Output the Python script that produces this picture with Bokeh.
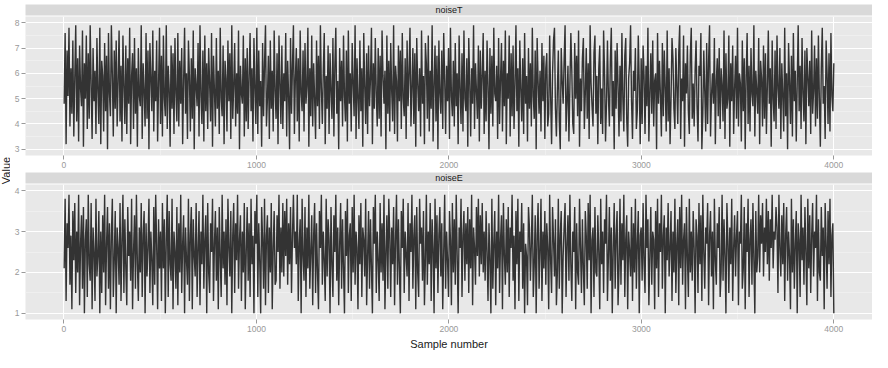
import numpy as np
from math import pi
from bokeh.plotting import figure
from bokeh.models import Label, SingleIntervalTicker, ColumnDataSource
from bokeh.layouts import row, column
from bokeh.embed import file_html
from bokeh.resources import INLINE

# ---- data ----
panel_names = ["noiseT", "noiseE"]
x_ticks = [0, 1000, 2000, 3000, 4000]
y_ticks_t = [3, 4, 5, 6, 7, 8]
y_ticks_e = [1, 2, 3, 4]

noise_t = [
 4.8, 7.6, 3.2, 6.9, 5.1, 7.8, 3.9, 6.2, 4.4, 7.3, 3.5, 5.8, 7.9, 4.1, 6.6, 3.3, 7.1, 5.4, 4.7, 7.7,
 3.1, 6.4, 5.0, 7.5, 3.8, 6.8, 4.2, 7.9, 5.6, 3.4, 7.0, 4.9, 6.1, 3.6, 7.4, 5.3, 4.0, 7.8, 3.2, 6.5,
 5.9, 3.7, 7.2, 4.5, 6.7, 3.0, 7.6, 5.2, 4.3, 7.9, 6.0, 3.5, 6.9, 4.6, 7.3, 3.9, 5.7, 7.7, 4.1, 6.3,
 3.3, 7.5, 5.5, 4.0, 7.1, 3.6, 6.6, 4.8, 7.8, 3.2, 5.9, 6.8, 3.8, 7.4, 4.4, 6.2, 3.1, 7.0, 5.1, 4.7,
 7.9, 3.4, 6.4, 5.3, 3.9, 7.6, 4.2, 6.9, 3.0, 7.2, 5.8, 4.5, 7.7, 3.7, 6.1, 4.9, 7.3, 3.3, 5.6, 7.8,
 4.0, 6.7, 3.5, 7.5, 5.0, 4.3, 7.9, 3.8, 6.3, 5.4, 3.1, 7.1, 4.6, 6.8, 3.6, 7.4, 5.2, 4.1, 7.6, 3.9,
 6.5, 4.8, 7.0, 3.2, 5.7, 7.8, 4.4, 6.0, 3.4, 7.3, 5.9, 3.7, 6.6, 4.2, 7.7, 3.0, 6.2, 5.5, 4.7, 7.2,
 3.5, 7.9, 5.1, 4.0, 6.9, 3.3, 7.5, 4.5, 6.4, 3.8, 7.0, 5.6, 4.1, 7.6, 3.1, 6.7, 5.3, 3.9, 7.4, 4.6,
 6.1, 3.6, 7.8, 5.0, 4.3, 7.1, 3.2, 6.5, 5.8, 3.7, 7.3, 4.9, 6.8, 3.4, 7.9, 4.2, 5.5, 7.2, 3.9, 6.0,
 4.4, 7.7, 3.0, 6.3, 5.2, 4.8, 7.5, 3.5, 6.6, 4.1, 7.0, 3.8, 5.9, 7.6, 4.5, 6.2, 3.3, 7.4, 5.4, 4.0,
 7.8, 3.6, 6.9, 4.7, 5.7, 3.1, 7.2, 4.3, 6.4, 7.9, 3.9, 5.0, 6.7, 3.4, 7.3, 4.6, 6.1, 3.7, 7.7, 5.3,
 4.2, 6.8, 3.2, 7.5, 5.6, 4.0, 7.1, 3.8, 6.0, 4.9, 7.6, 3.5, 6.5, 5.1, 3.0, 7.4, 4.4, 6.3, 7.9, 3.6,
 5.8, 7.0, 4.1, 6.6, 3.3, 7.7, 5.2, 4.5, 6.9, 3.7, 7.2, 4.8, 5.5, 7.8, 3.1, 6.2, 4.3, 7.5, 3.9, 6.4,
 5.0, 3.4, 7.3, 4.7, 6.7, 3.8, 7.9, 5.4, 4.0, 6.1, 7.6, 3.2, 5.9, 4.6, 7.1, 3.6, 6.8, 5.3, 4.2, 7.4,
 3.5, 6.3, 7.8, 4.4, 5.7, 3.0, 7.0, 4.9, 6.5, 3.9, 7.5, 5.1, 4.1, 6.9, 3.3, 7.7, 4.8, 6.0, 3.7, 7.2,
 5.6, 4.3, 7.9, 3.4, 6.6, 5.0, 3.8, 7.3, 4.5, 6.2, 3.1, 7.6, 5.5, 4.0, 6.8, 3.6, 7.1, 4.7, 5.8, 7.8,
 3.2, 6.4, 4.6, 7.4, 5.2, 3.9, 7.0, 4.2, 6.7, 3.5, 7.7, 5.9, 4.8, 6.1, 3.0, 7.5, 4.4, 6.5, 3.7, 7.2,
 5.3, 4.1, 7.9, 3.6, 6.3, 5.7, 3.3, 7.1, 4.9, 6.9, 3.8, 7.6, 5.0, 4.3, 6.6, 3.4, 7.3, 4.7, 6.0, 7.8,
 3.9, 5.4, 7.0, 4.0, 6.8, 3.1, 7.4, 5.6, 4.5, 6.2, 3.5, 7.7, 4.8, 5.9, 3.2, 7.2, 6.4, 4.2, 7.5, 3.7,
 6.1, 4.6, 7.9, 3.3, 5.5, 7.1, 4.1, 6.7, 3.0, 7.3, 5.2, 4.4, 6.9, 3.8, 7.6, 5.8, 3.6, 6.3, 4.9, 7.0,
 3.4, 7.8, 5.1, 4.3, 6.5, 3.9, 7.2, 4.7, 6.0, 3.2, 7.5, 5.4, 4.0, 6.8, 3.7, 7.7, 5.0, 4.5, 6.6, 3.1,
 7.4, 5.7, 3.5, 6.2, 4.8, 7.9, 3.8, 6.4, 5.3, 4.2, 7.1, 3.3, 6.9, 4.6, 5.9, 7.6, 3.6, 6.1, 4.1, 7.3,
 5.5, 3.0, 7.0, 4.4, 6.7, 3.9, 7.8, 5.2, 4.9, 6.3, 3.4, 7.4, 4.0, 5.8, 7.2, 3.7, 6.5, 4.7, 7.7, 3.2,
 6.0, 5.0, 7.5, 3.5, 6.8, 4.3, 7.1, 3.8, 5.6, 7.9, 4.5, 6.2, 3.1, 7.3, 5.4, 4.1, 6.6, 3.6, 7.6, 4.8,
 5.9, 3.3, 7.0, 4.6, 6.4, 3.9, 7.8, 5.1, 4.2, 6.9, 3.0, 7.4, 5.7, 4.4, 6.1, 3.7, 7.2, 4.9, 6.7, 3.4,
 6.2, 6.8, 3.9, 4.4, 7.5, 5.1, 3.2, 6.0, 7.3, 7.8, 4.6, 3.5, 5.3, 6.9, 4.1, 3.0, 7.0, 5.7, 4.8, 6.5,
 7.9, 3.7, 4.9, 6.3, 3.3, 5.5, 7.6, 6.1, 4.0, 3.6, 7.2, 5.0, 6.7, 4.3, 7.7, 3.1, 5.8, 4.5, 6.6, 7.4,
 3.8, 5.2, 7.0, 4.2, 6.4, 3.4, 7.9, 5.6, 4.7, 3.9, 6.8, 7.5, 4.4, 5.9, 3.2, 6.2, 7.1, 4.0, 5.4, 3.6,
 7.7, 6.0, 3.3, 4.8, 7.3, 5.1, 3.9, 6.5, 7.8, 4.3, 5.7, 3.0, 6.9, 4.6, 7.2, 5.5, 3.5, 6.3, 4.1, 7.6,
 5.0, 3.7, 6.7, 7.4, 4.2, 3.1, 5.8, 6.4, 7.9, 4.9, 3.4, 6.1, 5.3, 7.0, 3.8, 4.5, 7.5, 5.6, 3.2, 6.6,
 4.0, 7.1, 5.9, 3.6, 6.3, 4.7, 7.8, 3.3, 5.2, 6.8, 4.4, 7.3, 3.9, 5.7, 6.0, 3.0, 7.6, 4.8, 6.5, 5.1,
 3.5, 7.2, 4.3, 6.9, 5.4, 3.7, 7.7, 4.1, 6.2, 3.2, 5.0, 7.4, 6.6, 4.6, 3.8, 7.0, 5.5, 4.0, 6.8, 7.9,
 3.4, 5.8, 4.9, 7.5, 3.1, 6.4, 5.2, 7.1, 4.5, 3.6, 6.7, 7.8, 4.2, 5.6, 3.9, 6.1, 7.3, 4.7, 3.3, 6.3,
 5.9, 7.6, 3.0, 4.4, 6.9, 5.3, 3.7, 7.2, 4.0, 6.5, 7.9, 3.5, 5.1, 6.0, 4.8, 7.4, 3.2, 5.7, 6.6, 4.3,
 7.0, 3.8, 6.2, 5.5, 4.1, 7.7, 3.4, 6.8, 4.6, 5.0, 7.5, 3.1, 6.4, 4.9, 7.1, 3.6, 5.4, 6.7, 4.2, 7.8,
 3.9, 6.0, 5.6, 3.3, 7.3, 4.5, 6.6, 3.0, 5.9, 7.6, 4.0, 6.3, 3.7, 7.0, 5.2, 4.7, 7.9, 3.5, 6.1, 5.3,
 4.4, 7.4, 3.2, 6.5, 5.8, 3.9, 7.1, 4.2, 6.8, 3.6, 5.5, 7.7, 4.8, 6.2, 3.1, 7.3, 5.0, 4.1, 6.9, 3.8,
 7.5, 5.4, 4.6, 7.0, 3.4, 6.4, 5.1, 3.7, 7.8, 4.3, 6.0, 3.0, 7.2, 5.7, 4.0, 6.7, 3.5, 7.6, 4.9, 6.1,
 3.3, 5.6, 7.9, 4.5, 6.3, 3.8, 7.4, 5.2, 4.1, 6.9, 3.2, 7.0, 5.9, 4.7, 6.5, 3.6, 7.7, 4.4, 5.3, 7.1,
 3.9, 6.6, 4.2, 7.5, 5.0, 3.1, 6.2, 7.8, 4.8, 5.5, 3.4, 7.3, 6.0, 4.0, 6.8, 3.7, 7.6, 5.1, 4.5, 6.4,
]

noise_e = [
 2.1, 3.8, 1.3, 3.2, 2.6, 3.9, 1.7, 2.9, 1.1, 3.5, 2.3, 3.7, 1.5, 3.0, 2.0, 3.9, 1.2, 2.7, 3.4, 1.6,
 3.6, 1.0, 2.8, 3.3, 1.4, 3.9, 2.2, 1.8, 3.7, 1.1, 3.1, 2.5, 1.3, 3.8, 1.9, 2.4, 3.5, 1.0, 3.0, 1.5,
 3.4, 2.0, 3.9, 1.2, 2.7, 3.6, 1.6, 3.2, 1.1, 2.9, 3.8, 1.4, 2.3, 3.5, 1.0, 3.1, 2.6, 1.7, 3.7, 1.3,
 2.8, 3.9, 1.5, 3.3, 2.1, 1.2, 3.6, 2.4, 3.0, 1.8, 3.8, 1.1, 2.5, 3.4, 1.6, 3.9, 2.2, 1.3, 3.1, 2.0,
 3.7, 1.4, 2.9, 3.5, 1.0, 3.2, 1.9, 2.6, 3.8, 1.5, 3.0, 2.3, 1.2, 3.6, 1.7, 3.9, 2.7, 1.1, 3.3, 2.1,
 3.0, 1.3, 3.7, 2.1, 3.3, 1.0, 2.8, 3.9, 1.4, 3.5, 2.2, 1.8, 3.8, 1.1, 3.0, 2.5, 1.6, 3.6, 1.2, 3.2,
 2.0, 3.9, 1.5, 2.7, 3.4, 1.0, 3.1, 2.3, 1.7, 3.8, 1.3, 2.9, 3.6, 1.1, 3.3, 2.4, 1.9, 3.7, 1.4, 2.6,
 3.5, 1.2, 3.0, 2.2, 3.9, 1.6, 2.8, 3.4, 1.0, 3.7, 2.0, 1.5, 3.2, 2.5, 3.8, 1.3, 2.7, 3.5, 1.8, 3.1,
 1.1, 3.6, 2.4, 1.4, 3.9, 2.1, 3.0, 1.7, 3.3, 1.2, 3.8, 2.6, 1.9, 3.5, 1.0, 2.9, 3.7, 1.5, 3.2, 2.3,
 3.9, 1.6, 2.8, 3.4, 1.3, 3.0, 2.0, 3.7, 1.1, 2.5, 3.6, 1.8, 3.2, 1.4, 3.8, 2.2, 2.9, 1.0, 3.5, 2.7,
 3.9, 1.4, 3.2, 2.3, 1.0, 3.6, 2.8, 1.6, 3.8, 1.2, 2.9, 3.4, 1.5, 3.1, 2.0, 3.7, 1.1, 2.6, 3.5, 1.7,
 1.8, 3.4, 2.5, 3.9, 1.6, 3.1, 2.0, 3.7, 1.9, 3.5, 2.4, 3.8, 1.7, 3.2, 2.2, 3.6, 1.5, 2.9, 3.9, 2.6,
 3.0, 2.2, 3.9, 1.3, 2.7, 3.3, 1.0, 3.8, 2.4, 1.8, 3.6, 1.4, 3.1, 2.1, 3.9, 1.6, 2.5, 3.4, 1.2, 2.9,
 3.7, 1.5, 3.2, 2.0, 1.1, 3.5, 2.6, 3.9, 1.7, 3.0, 2.3, 1.3, 3.8, 1.9, 3.3, 2.8, 1.0, 3.6, 2.2, 1.4,
 3.4, 2.5, 3.9, 1.8, 3.1, 1.2, 2.7, 3.7, 1.6, 3.3, 2.1, 1.0, 3.5, 2.4, 3.8, 1.5, 2.9, 3.2, 1.3, 3.6,
 2.0, 3.9, 1.7, 3.0, 2.6, 1.1, 3.4, 2.2, 3.7, 1.4, 3.1, 2.8, 1.9, 3.8, 1.2, 2.4, 3.5, 1.6, 3.3, 2.1,
 1.0, 3.6, 2.7, 3.9, 1.5, 3.0, 2.3, 1.3, 3.7, 2.0, 3.2, 1.8, 3.9, 1.1, 2.5, 3.4, 1.6, 3.8, 2.9, 1.4,
 3.1, 2.2, 3.6, 1.2, 2.8, 3.9, 1.7, 3.3, 2.1, 1.0, 3.5, 2.6, 3.8, 1.5, 3.0, 2.4, 1.9, 3.7, 1.3, 3.2,
 2.5, 3.9, 1.6, 2.9, 3.4, 1.1, 3.6, 2.0, 1.4, 3.8, 2.7, 3.1, 1.8, 3.5, 1.2, 2.3, 3.9, 1.7, 3.0, 2.2,
 3.7, 1.3, 3.3, 2.6, 1.0, 3.8, 2.1, 3.4, 1.5, 2.9, 3.6, 1.9, 3.2, 1.1, 2.5, 3.9, 1.6, 3.0, 2.3, 1.4,
 3.5, 2.8, 1.2, 3.7, 2.0, 3.3, 1.7, 3.9, 2.4, 1.0, 3.1, 2.6, 3.8, 1.4, 2.9, 3.5, 1.8, 3.2, 2.2, 3.6,
 1.5, 3.3, 2.1, 3.9, 1.2, 3.1, 2.6, 1.7, 3.6, 2.4, 3.8, 1.9, 3.4, 2.2, 3.7, 2.0, 3.0, 1.8, 3.5, 2.5,
 1.3, 3.2, 2.3, 1.0, 3.8, 1.6, 2.7, 3.5, 1.2, 3.0, 2.1, 3.9, 1.5, 2.8, 3.4, 1.1, 3.7, 2.4, 1.7, 3.3,
 2.0, 3.6, 1.4, 3.1, 2.6, 3.9, 1.8, 2.9, 1.1, 3.5, 2.2, 3.8, 1.3, 3.0, 2.5, 3.7, 1.6, 3.2, 1.0, 2.7,
 2.4, 1.2, 3.6, 3.1, 1.8, 2.7, 3.9, 1.4, 2.2, 3.4, 1.0, 2.9, 3.7, 1.6, 2.5, 3.8, 1.3, 3.0, 2.1, 3.5,
 1.7, 3.2, 2.6, 1.1, 3.9, 2.3, 1.5, 3.6, 2.8, 1.9, 3.3, 1.2, 2.0, 3.8, 1.6, 2.9, 3.5, 1.0, 2.4, 3.1,
 3.7, 1.4, 2.7, 3.4, 1.8, 3.9, 2.2, 1.3, 3.0, 2.5, 3.6, 1.1, 3.2, 2.0, 1.7, 3.8, 2.6, 1.5, 3.3, 2.1,
 1.2, 3.5, 2.9, 1.6, 3.7, 2.3, 3.9, 1.0, 2.8, 3.1, 1.4, 3.6, 2.0, 1.9, 3.4, 2.5, 1.1, 3.8, 2.2, 3.0,
 1.5, 3.3, 2.7, 3.9, 1.3, 2.4, 3.6, 1.8, 3.1, 1.0, 2.6, 3.7, 1.6, 2.9, 3.5, 1.2, 2.1, 3.8, 1.7, 3.2,
 2.3, 3.9, 1.4, 2.8, 3.4, 1.1, 3.0, 2.5, 1.9, 3.6, 1.3, 3.2, 2.0, 3.8, 1.6, 2.7, 3.5, 1.0, 2.9, 3.1,
 1.8, 3.7, 2.2, 1.5, 3.9, 2.6, 3.3, 1.2, 2.4, 3.6, 1.7, 3.0, 2.8, 1.1, 3.5, 2.1, 3.8, 1.4, 3.2, 2.5,
 3.9, 1.6, 2.9, 3.4, 1.0, 3.1, 2.3, 3.7, 1.9, 2.6, 3.5, 1.3, 3.0, 2.0, 3.8, 1.5, 2.7, 3.3, 1.2, 3.6,
 2.1, 3.9, 1.7, 2.8, 3.2, 1.1, 3.6, 2.4, 1.4, 3.8, 2.0, 3.0, 1.8, 3.5, 2.6, 1.0, 3.3, 2.9, 1.5, 3.7,
 2.2, 3.4, 1.3, 3.9, 2.5, 1.6, 3.1, 2.7, 3.7, 1.2, 2.9, 3.5, 1.9, 3.0, 1.1, 3.8, 2.3, 1.7, 3.2, 2.6,
 3.6, 1.4, 2.0, 3.9, 1.8, 3.3, 2.4, 1.0, 3.7, 2.8, 1.5, 3.1, 2.2, 3.8, 1.3, 2.6, 3.4, 1.9, 2.9, 3.5,
 1.2, 3.0, 2.7, 3.9, 1.6, 2.1, 3.6, 1.1, 3.2, 2.5, 3.8, 1.4, 2.8, 3.3, 1.7, 3.7, 2.3, 1.0, 3.5, 2.0,
 2.4, 3.9, 2.0, 3.4, 2.7, 3.7, 1.9, 3.1, 2.5, 3.8, 2.2, 3.5, 1.8, 3.3, 2.6, 3.9, 2.1, 3.0, 2.8, 3.6,
 3.1, 1.5, 3.9, 2.6, 1.9, 3.4, 2.2, 3.7, 1.3, 2.9, 3.6, 1.8, 3.0, 2.4, 1.1, 3.8, 2.0, 3.3, 1.6, 2.7,
 3.5, 1.0, 3.2, 2.8, 1.4, 3.9, 2.3, 3.1, 1.7, 3.6, 2.5, 1.2, 3.8, 2.1, 3.4, 1.5, 2.9, 3.7, 1.9, 3.0,
 2.6, 3.9, 1.3, 3.3, 2.0, 1.8, 3.6, 2.4, 3.1, 1.1, 3.7, 2.7, 1.6, 3.5, 2.2, 3.8, 1.4, 2.9, 3.2, 1.0,
]

sample_t = np.linspace(1, 4000, len(noise_t))
sample_e = np.linspace(1, 4000, len(noise_e))

FONT = "Liberation Sans"
PANEL_BG = "#E8E8E8"
STRIP_BG = "#D9D9D9"
TICK_COL = "#999999"
TEXT_COL = "#1A1A1A"
LAB_W = 10
FIG_W = 862
AX_W = 15


def make_strip(name, height, top):
    s = figure(width=FIG_W, height=height, x_range=(0, 1), y_range=(0, 1),
               output_backend="svg", toolbar_location=None,
               background_fill_color=STRIP_BG, border_fill_color="white",
               outline_line_color=None, min_border_left=AX_W, min_border_right=0,
               min_border_top=top, min_border_bottom=1)
    s.axis.visible = False
    s.grid.visible = False
    s.add_layout(Label(x=0.5, y=0.5, text=name, text_align="center",
                       text_baseline="middle", text_font=FONT, text_font_size="9px",
                       text_color=TEXT_COL))
    return s


def make_panel(xs, ys, y_range, height, bottom, xlabel=None):
    p = figure(width=FIG_W, height=height, x_range=(-199.95, 4200.95), y_range=y_range,
               output_backend="svg", toolbar_location=None,
               background_fill_color=PANEL_BG, border_fill_color="white",
               outline_line_color=None, min_border_left=AX_W, min_border_right=0,
               min_border_top=0, min_border_bottom=bottom)
    src = ColumnDataSource(dict(x=xs, y=ys))
    p.line("x", "y", source=src, line_color="#333333", line_width=1.4)

    p.xaxis.ticker = SingleIntervalTicker(interval=1000, num_minor_ticks=2)
    p.yaxis.ticker = SingleIntervalTicker(interval=1, num_minor_ticks=2)
    for ax in (p.xaxis[0], p.yaxis[0]):
        ax.axis_line_color = None
        ax.major_tick_line_color = TICK_COL
        ax.major_tick_out = 4
        ax.major_tick_in = 0
        ax.minor_tick_line_color = None
        ax.major_label_text_font = FONT
        ax.major_label_text_font_size = "8.5px"
        ax.major_label_text_color = TICK_COL
        ax.major_label_standoff = 2
    if xlabel:
        p.xaxis.axis_label = xlabel
        p.xaxis.axis_label_text_font = FONT
        p.xaxis.axis_label_text_font_size = "11px"
        p.xaxis.axis_label_text_font_style = "normal"
        p.xaxis.axis_label_text_color = TEXT_COL
        p.xaxis.axis_label_standoff = 3
    for g in (p.xgrid[0], p.ygrid[0]):
        g.grid_line_color = "white"
        g.grid_line_width = 1
        g.minor_grid_line_color = "#F3F3F3"
        g.minor_grid_line_width = 0.6
    return p


s1 = make_strip(panel_names[0], 16, 4)
p1 = make_panel(sample_t, noise_t, (2.75, 8.25), 156, 17)
s2 = make_strip(panel_names[1], 12, 0)
p2 = make_panel(sample_e, noise_e, (0.85, 4.15), 168, 28, xlabel="Sample number")

lab = figure(width=LAB_W, height=352, x_range=(0, 1), y_range=(0, 352),
             output_backend="svg", toolbar_location=None, min_border=0,
             outline_line_color=None, background_fill_color="white")
lab.axis.visible = False
lab.grid.visible = False
lab.add_layout(Label(x=0.5, y=182, text="Value", angle=pi / 2, text_align="center",
                     text_baseline="middle", text_font=FONT, text_font_size="11px",
                     text_color=TEXT_COL))

layout = row(lab, column(s1, p1, s2, p2, spacing=0), spacing=0)

open("out.html", "w").write(file_html(layout, INLINE))
